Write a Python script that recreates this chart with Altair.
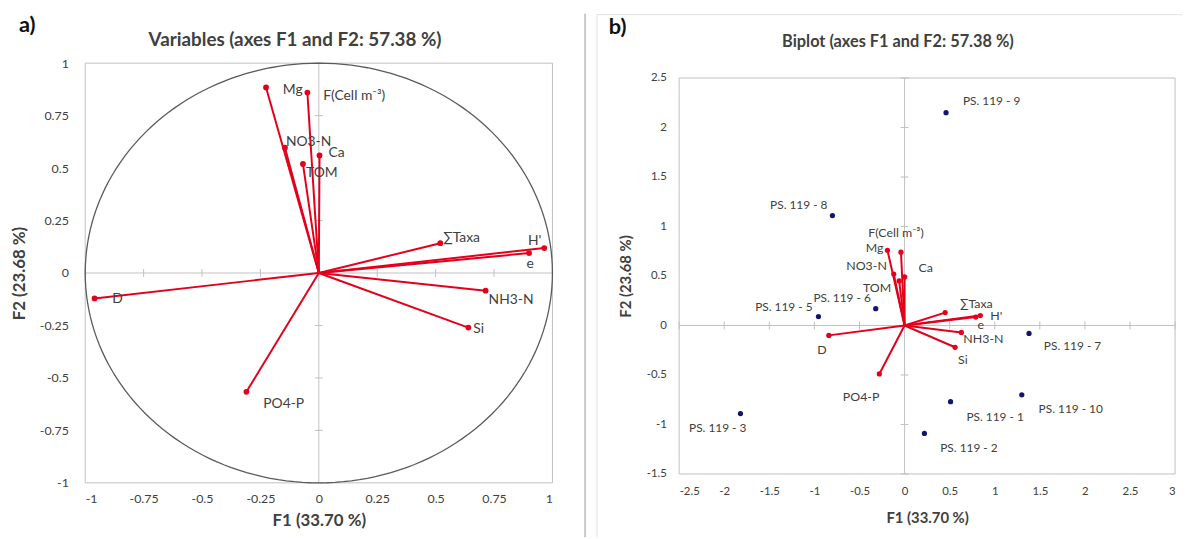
import altair as alt
import pandas as pd

FONT = "Lato"
TXT = "#404040"
RED = "#e3001b"
NAVY = "#14146e"
GRID = "#c0c0c0"

# ---------------- data ----------------
var_names = ["Mg", "F(Cell m⁻³)", "NO3-N", "Ca", "TOM", "D", "PO4-P",
             "∑Taxa", "H'", "e", "NH3-N", "Si"]
# panel a) loadings
var_f1 = [-0.226, -0.049, -0.145, 0.003, -0.068, -0.960, -0.310,
          0.520, 0.965, 0.900, 0.714, 0.640]
var_f2 = [0.884, 0.860, 0.597, 0.560, 0.520, -0.121, -0.566,
          0.142, 0.119, 0.095, -0.084, -0.260]
# panel b) variable vectors in the biplot
bi_f1 = [-0.19, -0.04, -0.12, 0.00, -0.06, -0.84, -0.28,
         0.45, 0.84, 0.79, 0.63, 0.56]
bi_f2 = [0.76, 0.74, 0.52, 0.49, 0.45, -0.10, -0.49,
         0.13, 0.10, 0.085, -0.07, -0.22]
# panel b) observations
obs_names = ["PS. 119 - 1", "PS. 119 - 2", "PS. 119 - 3", "PS. 119 - 5",
             "PS. 119 - 6", "PS. 119 - 7", "PS. 119 - 8", "PS. 119 - 9",
             "PS. 119 - 10"]
obs_f1 = [0.51, 0.22, -1.82, -0.955, -0.32, 1.38, -0.80, 0.46, 1.30]
obs_f2 = [-0.77, -1.09, -0.89, 0.09, 0.17, -0.08, 1.11, 2.15, -0.70]

a_ticks = [-1, -0.75, -0.5, -0.25, 0, 0.25, 0.5, 0.75, 1]
b_xticks = [-2.5, -2, -1.5, -1, -0.5, 0, 0.5, 1, 1.5, 2, 2.5, 3]
b_yticks = [-1.5, -1, -0.5, 0, 0.5, 1, 1.5, 2, 2.5]

title_a = "Variables (axes F1 and F2: 57.38 %)"
title_b = "Biplot (axes F1 and F2: 57.38 %)"

df_a = pd.DataFrame({"label": var_names, "f1": var_f1, "f2": var_f2})
df_bv = pd.DataFrame({"label": var_names, "f1": bi_f1, "f2": bi_f2})
df_bo = pd.DataFrame({"label": obs_names, "f1": obs_f1, "f2": obs_f2})
df_a["o"] = 0.0
df_bv["o"] = 0.0
one = pd.DataFrame({"o": [0.0]})

# label placement (align, dx, dy)
a_styles = {
    "Mg": ("left", 17, 3), "F(Cell m⁻³)": ("left", 16, 4),
    "NO3-N": ("left", 1, -6), "Ca": ("left", 9, -2), "TOM": ("left", 3, 9),
    "D": ("left", 18, 1), "PO4-P": ("left", 17, 12), "∑Taxa": ("left", 3, -5),
    "H'": ("right", -3, -7), "e": ("center", 1, 11), "NH3-N": ("left", 3, 9),
    "Si": ("left", 5, 1),
}
bv_styles = {
    "Mg": ("right", -4, -2), "F(Cell m⁻³)": ("left", -33, -19),
    "NO3-N": ("right", -7, -8), "Ca": ("left", 14, -9), "TOM": ("right", -8, 7),
    "D": ("center", -7, 15), "PO4-P": ("right", 0, 23), "∑Taxa": ("left", 15, -9),
    "H'": ("left", 10, 0), "e": ("center", 5, 8), "NH3-N": ("left", 2, 7),
    "Si": ("left", 3, 13),
}
bo_styles = {
    "PS. 119 - 1": ("left", 16, 15), "PS. 119 - 2": ("left", 16, 15),
    "PS. 119 - 3": ("right", 6, 15), "PS. 119 - 5": ("right", -6, -10),
    "PS. 119 - 6": ("right", -5, -11), "PS. 119 - 7": ("left", 15, 13),
    "PS. 119 - 8": ("right", -5, -11), "PS. 119 - 9": ("left", 17, -12),
    "PS. 119 - 10": ("left", 17, 14),
}


def make_axis(title, values, size, tsize, lpad, tpad):
    return alt.Axis(title=title, values=values, grid=False, ticks=False,
                    domain=False, labelFont=FONT, labelFontSize=size,
                    labelColor=TXT, labelPadding=lpad,
                    labelExpr="'' + datum.value",
                    titleFont=FONT, titleFontSize=tsize, titleFontWeight="bold",
                    titleColor=TXT, titlePadding=tpad)


def panel(sx, sy, xt, yt, xaxis, yaxis, top, bottom):
    def X(f):
        return alt.X(f, type="quantitative", scale=sx, axis=xaxis)

    def Y(f):
        return alt.Y(f, type="quantitative", scale=sy, axis=yaxis)

    xtdf = pd.DataFrame({"t": xt})
    xtdf["o"] = 0.0
    ytdf = pd.DataFrame({"t": yt})
    ytdf["o"] = 0.0
    layers = [
        alt.Chart(one).mark_rule(color=GRID, strokeWidth=1).encode(
            x=X("o"), y=alt.value(top), y2=alt.value(bottom)),
        alt.Chart(one).mark_rule(color=GRID, strokeWidth=1).encode(y=Y("o")),
        alt.Chart(xtdf).mark_rule(
            color=GRID, strokeWidth=1, yOffset=-4, y2Offset=4).encode(
            x=X("t"), y=Y("o"), y2=alt.Y2("o")),
        alt.Chart(ytdf).mark_rule(
            color=GRID, strokeWidth=1, xOffset=-4, x2Offset=4).encode(
            y=Y("t"), x=X("o"), x2=alt.X2("o")),
    ]
    return layers, X, Y


def text_layers(df, styles, X, Y, size, color):
    out = []
    for name, (align, dx, dy) in styles.items():
        out.append(
            alt.Chart(df)
            .transform_filter(alt.FieldEqualPredicate(field="label", equal=name))
            .mark_text(align=align, baseline="middle", dx=dx, dy=dy,
                       font=FONT, fontSize=size, color=color)
            .encode(x=X("f1"), y=Y("f2"), text="label:N")
        )
    return out


def free_text(txt, x, y, size, align="center", baseline="middle", color=TXT):
    return alt.Chart(one).mark_text(
        text=txt, font=FONT, fontSize=size, fontWeight="bold", color=color,
        align=align, baseline=baseline).encode(x=alt.value(x), y=alt.value(y))


def frame(x1, x2, y1, y2, color):
    return alt.Chart(one).mark_rect(fillOpacity=0, stroke=color, strokeWidth=1).encode(
        x=alt.value(x1), x2=alt.value(x2), y=alt.value(y1), y2=alt.value(y2))


# ---------------- panel a ----------------
WA, HA = 472, 424
ax_a = make_axis("F1 (33.70 %)", a_ticks, 12.5, 17, 10, 8)
ay_a = make_axis("F2 (23.68 %)", a_ticks, 12.5, 17, 17, 11)
sxa = alt.Scale(domain=[-1, 1], nice=False, zero=False)
sya = alt.Scale(domain=[-1, 1], nice=False, zero=False)
la, Xa, Ya = panel(sxa, sya, a_ticks, a_ticks, ax_a, ay_a, 0, HA)

circle = (
    alt.Chart(alt.sequence(0, 362, 2, as_="deg"))
    .transform_calculate(cx="cos(datum.deg*PI/180)", cy="sin(datum.deg*PI/180)")
    .mark_line(color="#5a5a5a", strokeWidth=1.3)
    .encode(x=Xa("cx"), y=Ya("cy"), order="deg:Q")
)
arrows_a = alt.Chart(df_a).mark_rule(color=RED, strokeWidth=2).encode(
    x=Xa("o"), x2=alt.X2("f1"), y=Ya("o"), y2=alt.Y2("f2"))
pts_a = alt.Chart(df_a).mark_circle(color=RED, size=34, opacity=1).encode(
    x=Xa("f1"), y=Ya("f2"))
sep = alt.Chart(one).mark_rule(color="#c8c8c8", strokeWidth=2).encode(
    x=alt.value(505), y=alt.value(-50), y2=alt.value(479))

left = alt.layer(
    frame(0, WA, 0, HA, GRID),
    *la, circle, arrows_a, pts_a,
    *text_layers(df_a, a_styles, Xa, Ya, 14, TXT), sep,
    free_text("a)", -67, -48, 22, align="left", baseline="top", color="#111111"),
    free_text(title_a, 212, -23, 19),
).properties(width=WA, height=HA)

# ---------------- panel b ----------------
WB, HB = 501, 415
PT = 15  # plot top inside group
ax_b = make_axis("F1 (33.70 %)", b_xticks, 11.5, 15, 12, 14)
ay_b = make_axis("F2 (23.68 %)", b_yticks, 11.5, 15, 13, 13)
sxb = alt.Scale(domain=[-2.5, 3], nice=False, zero=False)
syb = alt.Scale(domain=[-1.5, 2.5], nice=False, zero=False, range=[HB, PT])
lb, Xb, Yb = panel(sxb, syb, b_xticks, b_yticks, ax_b, ay_b, PT, HB)

arrows_b = alt.Chart(df_bv).mark_rule(color=RED, strokeWidth=2).encode(
    x=Xb("o"), x2=alt.X2("f1"), y=Yb("o"), y2=alt.Y2("f2"))
pts_bv = alt.Chart(df_bv).mark_circle(color=RED, size=28, opacity=1).encode(
    x=Xb("f1"), y=Yb("f2"))
pts_bo = alt.Chart(df_bo).mark_circle(color=NAVY, size=28, opacity=1).encode(
    x=Xb("f1"), y=Yb("f2"))
frame_top = alt.Chart(one).mark_rule(color="#e2e2e2", strokeWidth=1).encode(
    x=alt.value(-83), x2=alt.value(508), y=alt.value(-49))
frame_left = alt.Chart(one).mark_rule(color="#e2e2e2", strokeWidth=1).encode(
    x=alt.value(-83), y=alt.value(-49), y2=alt.value(479))

right = alt.layer(
    frame(0, WB, PT, HB, GRID),
    *lb, arrows_b, pts_bv, pts_bo,
    *text_layers(df_bv, bv_styles, Xb, Yb, 12.5, TXT),
    *text_layers(df_bo, bo_styles, Xb, Yb, 12, TXT),
    frame_top, frame_left,
    free_text("b)", -71, -46, 22, align="left", baseline="top", color="#111111"),
    free_text(title_b, 221, -21, 16.5),
).properties(width=WB, height=HB)

chart = alt.hconcat(left, right, spacing=10).properties(
    padding={"left": 2, "top": 2, "right": 0, "bottom": 0}
).configure_view(strokeWidth=0, stroke="transparent")

chart.save("out.html", embed_options={"renderer": "svg", "actions": False})
